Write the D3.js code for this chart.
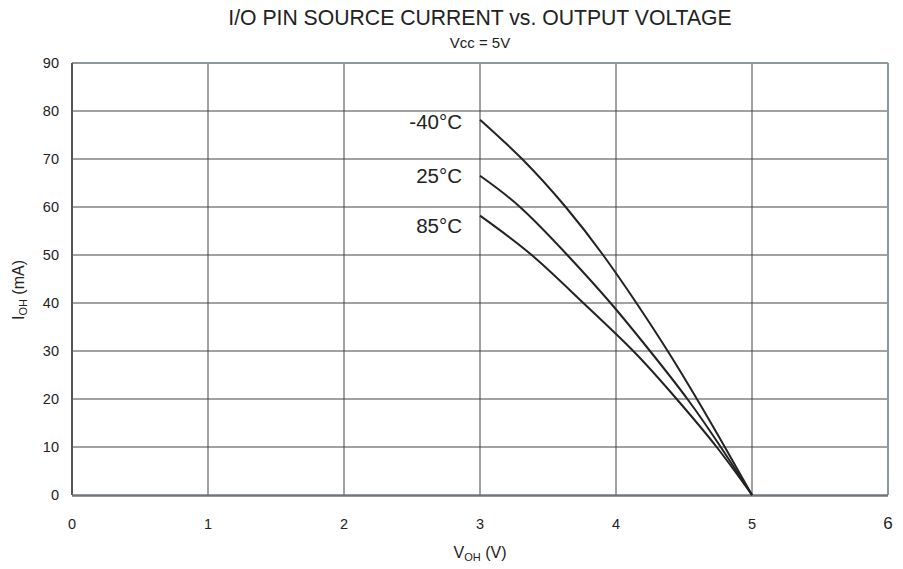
<!DOCTYPE html>
<html lang="en">
<head>
<meta charset="UTF-8">
<title>I/O Pin Source Current</title>
<script src="https://cdn.jsdelivr.net/npm/d3@7"></script>
<style>
  body { margin: 0; background: #fff; }
  text { font-family: "Liberation Sans", Arial, sans-serif; fill: #222; }
</style>
</head>
<body>
<svg width="903" height="569"></svg>
<script>
// curves: [V_OH, I_OH]
const temps = ["-40°C", "25°C", "85°C"];
const minus40 = [[3.0,78.2],[3.31,70],[3.63,60],[3.905,50],[4.15,40],[4.38,30],[4.595,20],[4.80,10],[5,0]];
const room25 = [[3.0,66.5],[3.294,60],[3.642,50],[3.96,40],[4.25,30],[4.525,20],[4.77,10],[5,0]];
const hot85 = [[3.0,58.2],[3.38,50],[3.76,40],[4.127,30],[4.446,20],[4.74,10],[5,0]];
const xTicks = [0, 1, 2, 3, 4, 5, 6];
const yTicks = [0, 10, 20, 30, 40, 50, 60, 70, 80, 90];

const svg = d3.select("svg");
const pL = 72, pR = 888, pT = 63, pB = 495;
const labelDy = [9, 7, 17];   // baseline shift of each curve label

const x = d3.scaleLinear().domain([0, 6]).range([pL, pR]);
const y = d3.scaleLinear().domain([0, 90]).range([pB, pT]);

// grid
svg.append("g").selectAll("line").data(xTicks.slice(1, -1)).join("line")
  .attr("x1", d => x(d)).attr("x2", d => x(d))
  .attr("y1", pT).attr("y2", pB)
  .attr("stroke", "#444").attr("stroke-width", 1);
svg.append("g").selectAll("line").data(yTicks.slice(1, -1)).join("line")
  .attr("x1", pL).attr("x2", pR)
  .attr("y1", d => y(d)).attr("y2", d => y(d))
  .attr("stroke", "#444").attr("stroke-width", 1);

// frame
svg.append("line").attr("x1", pL).attr("x2", pR).attr("y1", pT).attr("y2", pT)
  .attr("stroke", "#8e979c").attr("stroke-width", 2);
svg.append("line").attr("x1", pR).attr("x2", pR).attr("y1", pT).attr("y2", pB)
  .attr("stroke", "#8e979c").attr("stroke-width", 2);
svg.append("line").attr("x1", pL).attr("x2", pL).attr("y1", pT).attr("y2", pB)
  .attr("stroke", "#555").attr("stroke-width", 2);
svg.append("line").attr("x1", pL).attr("x2", pR).attr("y1", pB + 0.5).attr("y2", pB + 0.5)
  .attr("stroke", "#6f767b").attr("stroke-width", 2.5);

// tick labels
svg.append("g").selectAll("text").data(yTicks).join("text")
  .attr("x", 59).attr("y", d => y(d) + 5)
  .attr("text-anchor", "end").attr("font-size", 14.5)
  .text(d => d);
svg.append("g").selectAll("text").data(xTicks).join("text")
  .attr("x", d => x(d)).attr("y", 529)
  .attr("text-anchor", "middle").attr("font-size", d => d === 6 ? 17 : 14.5)
  .text(d => d);

// curves
const line = d3.line().x(d => x(d[0])).y(d => y(d[1])).curve(d3.curveNatural);
const series = [minus40, room25, hot85];
svg.append("g").selectAll("path").data(series).join("path")
  .attr("d", line)
  .attr("fill", "none").attr("stroke", "#222").attr("stroke-width", 2);

// curve labels
svg.append("g").selectAll("text").data(series).join("text")
  .attr("x", x(3) - 18).attr("y", (d, i) => y(d[0][1]) + labelDy[i])
  .attr("text-anchor", "end").attr("font-size", 20.5)
  .text((d, i) => temps[i]);

// titles
svg.append("text").attr("x", 480).attr("y", 25).attr("text-anchor", "middle")
  .attr("font-size", 21.2).text("I/O PIN SOURCE CURRENT vs. OUTPUT VOLTAGE");
svg.append("text").attr("x", 480).attr("y", 48).attr("text-anchor", "middle")
  .attr("font-size", 15).text("Vcc = 5V");

const xt = svg.append("text").attr("x", 480).attr("y", 558).attr("text-anchor", "middle").attr("font-size", 16);
xt.append("tspan").text("V");
xt.append("tspan").attr("font-size", 11).attr("dy", 3).text("OH");
xt.append("tspan").attr("dy", -3).text(" (V)");

const yt = svg.append("text").attr("transform", "translate(24,290) rotate(-90)")
  .attr("text-anchor", "middle").attr("font-size", 16);
yt.append("tspan").text("I");
yt.append("tspan").attr("font-size", 11).attr("dy", 3).text("OH");
yt.append("tspan").attr("dy", -3).text(" (mA)");
</script>
</body>
</html>
